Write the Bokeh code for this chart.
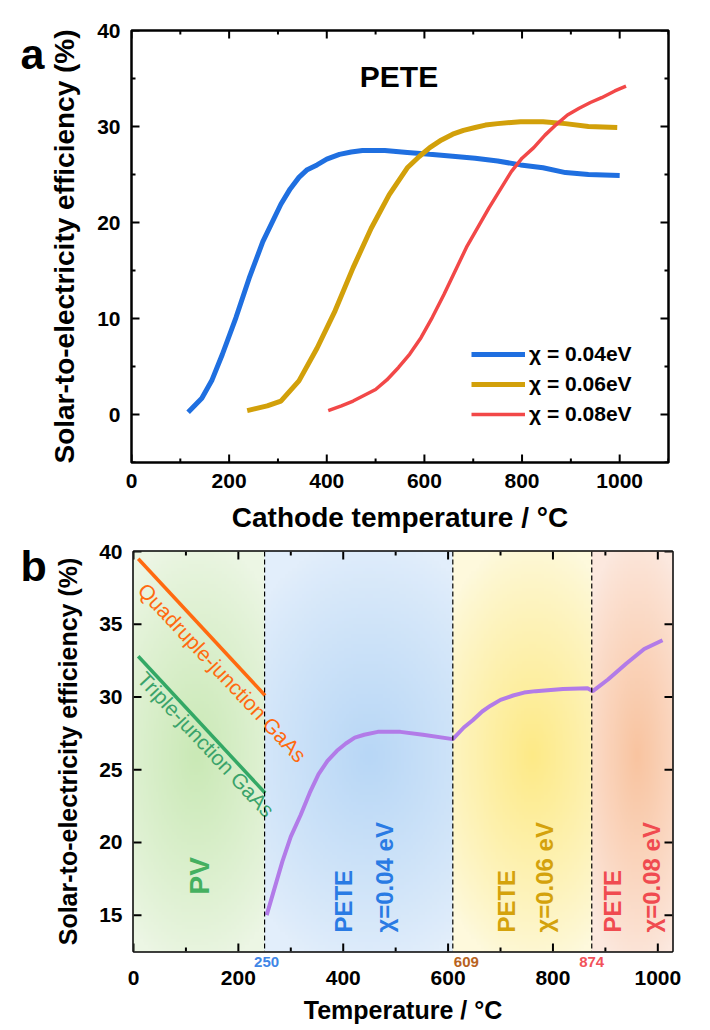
import numpy as np
from bokeh.plotting import figure
from bokeh.models import Range1d, SingleIntervalTicker, Span, Label, ColumnDataSource
from bokeh.layouts import column, row
from bokeh.core.properties import value
from bokeh.embed import file_html
from bokeh.resources import INLINE

FONT = "Liberation Sans"

# ---------------- data: panel a ----------------
temp_004 = [116, 144, 165, 186, 214, 241, 269, 306, 325, 343, 360, 380, 400, 426, 450, 473, 519, 565, 611, 658, 704, 750, 797, 843, 889, 936, 1000]
eff_004 = [0.24, 1.7, 3.6, 6.25, 10.1, 14.2, 18.0, 21.9, 23.5, 24.7, 25.5, 26.0, 26.6, 27.1, 27.35, 27.5, 27.5, 27.3, 27.1, 26.9, 26.7, 26.4, 26.0, 25.7, 25.2, 25.0, 24.9]
temp_006 = [237, 278, 306, 343, 380, 417, 454, 491, 528, 565, 590, 611, 635, 658, 680, 704, 725, 750, 797, 843, 889, 936, 995]
eff_006 = [0.4, 0.9, 1.4, 3.5, 6.9, 10.8, 15.3, 19.4, 22.9, 25.7, 26.9, 27.8, 28.6, 29.2, 29.6, 29.9, 30.15, 30.3, 30.5, 30.5, 30.3, 30.0, 29.9]
temp_008 = [403, 430, 454, 477, 500, 523, 547, 570, 593, 616, 640, 686, 732, 778, 800, 824, 847, 870, 893, 917, 940, 963, 990, 1013]
eff_008 = [0.4, 0.9, 1.4, 2.0, 2.6, 3.6, 4.9, 6.3, 8.0, 10.1, 12.5, 17.4, 21.5, 25.3, 26.7, 27.8, 29.1, 30.2, 31.2, 31.9, 32.5, 33.0, 33.7, 34.2]
series_labels = ["\u03c7 = 0.04eV", "\u03c7 = 0.06eV", "\u03c7 = 0.08eV"]
a_xticks = [0, 200, 400, 600, 800, 1000]
a_xminor = [100, 300, 500, 700, 900, 1100]
a_yticks = [0, 10, 20, 30, 40]
a_yminor = [-5, 5, 15, 25, 35]

# ---------------- data: panel b ----------------
pete_temp = [254, 284, 300, 319, 336, 353, 370, 388, 405, 422, 440, 466, 509, 552, 609, 630, 647, 665, 681, 700, 724, 745, 767, 819, 866, 876, 905, 940, 974, 1009]
pete_eff = [15.0, 18.7, 20.4, 21.9, 23.4, 24.7, 25.6, 26.3, 26.8, 27.2, 27.4, 27.6, 27.6, 27.4, 27.1, 27.9, 28.4, 29.0, 29.4, 29.8, 30.1, 30.3, 30.4, 30.55, 30.6, 30.4, 31.2, 32.3, 33.3, 33.9]
pv_temp = [9, 251]
quad_eff = [39.5, 30.1]
triple_eff = [32.8, 23.4]
boundaries = [0, 250, 609, 874, 1028]
boundary_labels = ["250", "609", "874"]
b_xticks = [0, 200, 400, 600, 800, 1000]
b_xminor = [100, 300, 500, 700, 900]
b_yticks = [15, 20, 25, 30, 35, 40]


def style_axes(p, tick_fs, title_fs, xstand, ystand, xlab_stand, ylab_stand):
    for ax in p.xaxis + p.yaxis:
        ax.major_label_text_font = FONT
        ax.major_label_text_font_style = "bold"
        ax.major_label_text_font_size = tick_fs
        ax.major_label_text_color = "black"
        ax.axis_label_text_font = FONT
        ax.axis_label_text_font_style = "bold"
        ax.axis_label_text_font_size = title_fs
        ax.axis_label_text_color = "black"
        ax.major_tick_in = 0
        ax.major_tick_out = 0
        ax.minor_tick_line_color = None
        ax.major_tick_line_color = None
        ax.axis_line_color = None
    p.xaxis.major_label_standoff = xstand
    p.yaxis.major_label_standoff = ystand
    p.xaxis.axis_label_standoff = xlab_stand
    p.yaxis.axis_label_standoff = ylab_stand
    p.xgrid.visible = False
    p.ygrid.visible = False
    p.outline_line_color = "black"
    p.outline_line_width = 2.5


def inward_ticks(p, xr, yr, frame_w, frame_h, xmaj, xmin, ymaj, ymin):
    # inward tick marks (8 px major, 4 px minor) on all four sides of the frame
    ux = (xr.end - xr.start) / frame_w
    uy = (yr.end - yr.start) / frame_h
    for ticks, plen in ((xmaj, 8), (xmin, 4)):
        n = len(ticks)
        p.segment(x0=ticks, y0=[yr.start] * n, x1=ticks, y1=[yr.start + plen * uy] * n,
                  line_color="black", line_width=2)
        p.segment(x0=ticks, y0=[yr.end] * n, x1=ticks, y1=[yr.end - plen * uy] * n,
                  line_color="black", line_width=2)
    for ticks, plen in ((ymaj, 8), (ymin, 4)):
        n = len(ticks)
        if n == 0:
            continue
        p.segment(x0=[xr.start] * n, y0=ticks, x1=[xr.start + plen * ux] * n, y1=ticks,
                  line_color="black", line_width=2)
        p.segment(x0=[xr.end] * n, y0=ticks, x1=[xr.end - plen * ux] * n, y1=ticks,
                  line_color="black", line_width=2)


def letter_fig(h, yrange, letter, ypos):
    # narrow strip left of a panel; its frame lines up with the panel's frame
    f = figure(width=46, height=h, x_range=Range1d(0, 46), y_range=yrange, title=None,
               output_backend="svg", toolbar_location=None, tools="",
               min_border=0, x_axis_location=None, y_axis_location=None)
    f.outline_line_color = None
    f.xgrid.visible = False
    f.ygrid.visible = False
    f.add_layout(Label(x=20, y=ypos, text=letter, text_font=FONT,
                       text_font_style="bold", text_color="black", text_font_size="43px",
                       text_align="left", text_baseline="alphabetic"))
    return f


# ================= panel a =================
xr1 = Range1d(0, 1100)
yr1 = Range1d(-5, 40)
p1 = figure(width=664, height=540, x_range=xr1, y_range=yr1,
            output_backend="svg", toolbar_location=None, tools="",
            min_border_left=85, min_border_right=42, min_border_top=30, min_border_bottom=78,
            x_axis_label="Cathode temperature / \u00b0C",
            y_axis_label="Solar-to-electricity efficiency (%)")
p1.xaxis.ticker = SingleIntervalTicker(interval=200, num_minor_ticks=0)
p1.yaxis.ticker = SingleIntervalTicker(interval=10, num_minor_ticks=0)
style_axes(p1, "21px", "28px", 11, 11, 11, 14)
inward_ticks(p1, xr1, yr1, 664 - 85 - 42, 540 - 30 - 78, a_xticks, a_xminor, a_yticks, a_yminor)

p1.line(temp_004, eff_004, line_color="#1f6fe0", line_width=5, legend_label=series_labels[0])
p1.line(temp_006, eff_006, line_color="#d2a00a", line_width=5, legend_label=series_labels[1])
p1.line(temp_008, eff_008, line_color="#f24848", line_width=3.5, legend_label=series_labels[2])

lg = p1.legend[0]
lg.location = (340, 36)
lg.margin = 0
lg.padding = 0
lg.spacing = 6
lg.glyph_width = 54
lg.glyph_height = 24
lg.label_standoff = 4
lg.label_text_font = FONT
lg.label_text_font_style = "bold"
lg.label_text_font_size = "21px"
lg.label_text_color = "black"
lg.background_fill_alpha = 0
lg.border_line_alpha = 0

p1.add_layout(Label(x=548, y=35.2, text="PETE", text_font=FONT, text_font_style="bold",
                    text_color="black", text_font_size="30px", text_align="center", text_baseline="middle"))

pa = letter_fig(540, yr1, "a", 37.6)

# ================= panel b =================
xr2 = Range1d(0, 1028)
yr2 = Range1d(12.5, 40)
p2 = figure(width=664, height=413, x_range=xr2, y_range=yr2,
            output_backend="svg", toolbar_location=None, tools="",
            min_border_left=87, min_border_right=38, min_border_top=11, min_border_bottom=2,
            x_axis_location=None,
            y_axis_label="Solar-to-electricity efficiency (%)")
p2.yaxis.ticker = SingleIntervalTicker(interval=5, num_minor_ticks=0)
style_axes(p2, "21px", "25px", 0, 11, 0, 14)

# gradient backgrounds
region_edges = [(236, 246, 228), (226, 238, 251), (254, 249, 220), (252, 232, 222)]
region_centers = [(202, 233, 182), (184, 215, 246), (253, 234, 135), (249, 196, 160)]
region_cx = [120, 450, 760, 960]
for i in range(4):
    x0, x1 = boundaries[i], boundaries[i + 1]
    nx, ny = 80, 120
    xs = np.linspace(x0, x1, nx)
    ys = np.linspace(12.5, 40, ny)
    X, Y = np.meshgrid(xs, ys)
    rx = (x1 - x0) * 0.8
    ry = 15.0
    d = np.sqrt(((X - region_cx[i]) / rx) ** 2 + ((Y - 26.0) / ry) ** 2)
    t = np.clip(1 - d, 0, 1) ** 0.9
    e = np.array(region_edges[i], dtype=float)
    c = np.array(region_centers[i], dtype=float)
    rgb = e[None, None, :] + (c - e)[None, None, :] * t[..., None]
    img = np.empty((ny, nx), dtype=np.uint32)
    view = img.view(dtype=np.uint8).reshape((ny, nx, 4))
    view[..., :3] = np.clip(rgb, 0, 255).astype(np.uint8)
    view[..., 3] = 255
    p2.image_rgba(image=[img], x=x0, y=12.5, dw=x1 - x0, dh=27.5)

for b in boundaries[1:4]:
    p2.add_layout(Span(location=b, dimension="height", line_color="black", line_width=1.2, line_dash="5 3"))

inward_ticks(p2, xr2, yr2, 664 - 87 - 38, 413 - 11 - 2, b_xticks, b_xminor, b_yticks, [])

p2.line(pv_temp, quad_eff, line_color="#ff6a10", line_width=3.5)
p2.line(pv_temp, triple_eff, line_color="#33a865", line_width=3.5)
p2.line(pete_temp, pete_eff, line_color="#b27be8", line_width=4)

p2.text(x=[16], y=[37.6], text=["Quadruple-junction GaAs"], angle=-0.82, text_color="#ff6a10",
        text_font=value(FONT), text_font_size="21px", text_align="left", text_baseline="middle")
p2.text(x=[15], y=[31.5], text=["Triple-junction GaAs"], angle=-0.82, text_color="#3aa36a",
        text_font=value(FONT), text_font_size="21px", text_align="left", text_baseline="middle")

p2.text(x=[126], y=[17.7], text=["PV"], angle=np.pi / 2, text_color="#45b060",
        text_font=value(FONT), text_font_style="bold", text_font_size="28px",
        text_align="center", text_baseline="middle")

vsrc = ColumnDataSource(dict(
    x=[401, 478, 711, 784, 914, 987],
    y=[13.8] * 6,
    text=["PETE", "\u03c7=0.04 eV", "PETE", "\u03c7=0.06 eV", "PETE", "\u03c7=0.08 eV"],
    color=["#2a7be4", "#2a7be4", "#d4a20c", "#d4a20c", "#f04b50", "#f04b50"],
))
p2.text(x="x", y="y", text="text", source=vsrc, angle=np.pi / 2, text_color="color",
        text_font=value(FONT), text_font_style="bold", text_font_size="24px",
        text_align="left", text_baseline="middle")

# x-axis strip under panel b (boundary labels + tick labels + title)
p2x = figure(width=664, height=77, x_range=xr2, y_range=Range1d(0, 1), title=None,
             output_backend="svg", toolbar_location=None, tools="",
             min_border_left=87, min_border_right=38, min_border_top=0, min_border_bottom=60,
             y_axis_location=None, x_axis_label="Temperature / \u00b0C")
p2x.xaxis.ticker = SingleIntervalTicker(interval=200, num_minor_ticks=0)
style_axes(p2x, "21px", "25px", 0, 0, 8, 0)
p2x.outline_line_color = None
bsrc = ColumnDataSource(dict(x=[230, 611, 850], y=[0.5] * 3, text=boundary_labels,
                             color=["#3f86e6", "#b8631e", "#f2525a"]))
p2x.text(x="x", y="y", text="text", source=bsrc, text_color="color",
         text_font=value(FONT), text_font_style="bold", text_font_size="15px",
         text_align="left", text_baseline="middle")

pb = letter_fig(490, Range1d(0, 490), "b", 465)

layout = column(row(pa, p1), row(pb, column(p2, p2x)))
open("out.html", "w").write(file_html(layout, INLINE))
